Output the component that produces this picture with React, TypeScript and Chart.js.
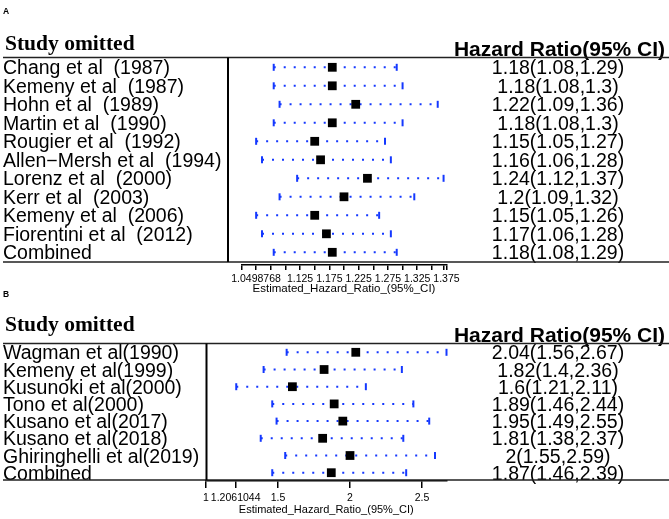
import { useEffect, useRef } from 'react';
import { Chart, registerables } from 'chart.js';

Chart.register(...registerables);

// ---------- Panel A data ----------
const studiesA = [
  'Chang et al  (1987)',
  'Kemeny et al  (1987)',
  'Hohn et al  (1989)',
  'Martin et al  (1990)',
  'Rougier et al  (1992)',
  'Allen\u2212Mersh et al  (1994)',
  'Lorenz et al  (2000)',
  'Kerr et al  (2003)',
  'Kemeny et al  (2006)',
  'Fiorentini et al  (2012)',
  'Combined',
];
const hrA = [1.18, 1.18, 1.22, 1.18, 1.15, 1.16, 1.24, 1.2, 1.15, 1.17, 1.18];
const loA = [1.08, 1.08, 1.09, 1.08, 1.05, 1.06, 1.12, 1.09, 1.05, 1.06, 1.08];
const hiA = [1.29, 1.3, 1.36, 1.3, 1.27, 1.28, 1.37, 1.32, 1.26, 1.28, 1.29];
const tickValuesA = [1.025, 1.0498768, 1.075, 1.1, 1.125, 1.15, 1.175, 1.2, 1.225, 1.25, 1.275, 1.3, 1.325, 1.35, 1.37, 1.375];
const tickLabelsA = [1.0498768, 1.125, 1.175, 1.225, 1.275, 1.325, 1.375];

// ---------- Panel B data ----------
const studiesB = [
  'Wagman et al(1990)',
  'Kemeny et al(1999)',
  'Kusunoki et al(2000)',
  'Tono et al(2000)',
  'Kusano et al(2017)',
  'Kusano et al(2018)',
  'Ghiringhelli et al(2019)',
  'Combined',
];
const hrB = [2.04, 1.82, 1.6, 1.89, 1.95, 1.81, 2, 1.87];
const loB = [1.56, 1.4, 1.21, 1.46, 1.49, 1.38, 1.55, 1.46];
const hiB = [2.67, 2.36, 2.11, 2.44, 2.55, 2.37, 2.59, 2.39];
const tickValuesB = [1, 1.2061044, 1.5, 2, 2.5];
const tickLabelsB = [1, 1.2061044, 1.5, 2, 2.5];

const axisTitle = 'Estimated_Hazard_Ratio_(95%_CI)';
const BLUE = '#1438ff';
const SANS = '"Liberation Sans", Arial, sans-serif';
const SERIF = '"Liberation Serif", "Times New Roman", serif';

type PanelSpec = {
  letter: string;
  names: string[];
  hr: number[];
  lo: number[];
  hi: number[];
  ticks: number[];
  labeled: number[];
  height: number;
  xMin: number;
  xMax: number;
  yMin: number;
  yMax: number;
  padTop: number;
  padBottom: number;
  padLeft: number;
  tickLength: number;
  tickPadding: number;
  titlePadTop: number;
  titleSize: number;
  letterY: number;
  headY: number;
  hrHeadY: number;
  topLine: number;
  bottomLine: number;
  vLineX: number;
};

const W = 669;

function makeConfig(p: PanelSpec): any {
  const squares = p.hr.map((v, i) => ({ x: v, y: i }));
  const caps = [...p.lo.map((v, i) => ({ x: v, y: i })), ...p.hi.map((v, i) => ({ x: v, y: i }))];
  const segs: any[] = [];
  p.lo.forEach((l, i) => {
    segs.push({ x: l, y: i }, { x: p.hi[i], y: i }, { x: p.hi[i], y: null });
  });

  const tablePlugin = {
    id: 'tableText' + p.letter,
    afterDraw(chart: any) {
      const ctx = chart.ctx as CanvasRenderingContext2D;
      const ys = chart.scales.y;
      ctx.save();
      ctx.fillStyle = '#000';
      ctx.textBaseline = 'alphabetic';
      ctx.textAlign = 'left';
      ctx.font = `bold 8.5px ${SANS}`;
      ctx.fillText(p.letter, 3, p.letterY);
      ctx.font = `bold 21.5px ${SERIF}`;
      ctx.fillText('Study omitted', 5, p.headY);
      ctx.font = `bold 21px ${SANS}`;
      ctx.textAlign = 'center';
      ctx.fillText('Hazard Ratio(95% CI)', 559.5, p.hrHeadY);
      ctx.font = `19.5px ${SANS}`;
      p.names.forEach((n, i) => {
        const y = ys.getPixelForValue(i);
        ctx.textAlign = 'left';
        ctx.fillText(n, 3, y + 7);
        ctx.textAlign = 'center';
        ctx.fillText(`${p.hr[i]}(${p.lo[i]},${p.hi[i]})`, 558, y + 7);
      });
      ctx.strokeStyle = '#222';
      ctx.lineWidth = 1.5;
      ctx.beginPath();
      ctx.moveTo(3, p.topLine);
      ctx.lineTo(W, p.topLine);
      ctx.moveTo(3, p.bottomLine);
      ctx.lineTo(W, p.bottomLine);
      ctx.stroke();
      ctx.strokeStyle = '#000';
      ctx.lineWidth = 2;
      ctx.beginPath();
      ctx.moveTo(p.vLineX, p.topLine);
      ctx.lineTo(p.vLineX, p.bottomLine);
      ctx.stroke();
      ctx.restore();
    },
  };

  return {
    type: 'scatter',
    data: {
      datasets: [
        {
          type: 'scatter',
          data: squares,
          pointStyle: 'rect',
          pointRadius: 6.2,
          pointBackgroundColor: '#000',
          pointBorderWidth: 0,
          clip: false,
        },
        {
          type: 'scatter',
          data: caps,
          pointStyle: 'line',
          pointRotation: 90,
          pointRadius: 3.5,
          pointBorderColor: BLUE,
          pointBorderWidth: 2,
          clip: false,
        },
        {
          type: 'line',
          data: segs,
          borderColor: BLUE,
          borderWidth: 2,
          borderDash: [2, 8],
          borderCapStyle: 'butt',
          pointRadius: 0,
          spanGaps: false,
          fill: false,
          tension: 0,
          clip: false,
        },
      ],
    },
    options: {
      responsive: false,
      animation: false,
      events: [],
      layout: {
        padding: { top: p.padTop, bottom: p.padBottom, left: p.padLeft, right: W - 446.5 },
      },
      plugins: { legend: { display: false }, tooltip: { enabled: false } },
      scales: {
        x: {
          type: 'linear',
          min: p.xMin,
          max: p.xMax,
          afterBuildTicks: (scale: any) => {
            scale.ticks = p.ticks.map((v) => ({ value: v }));
          },
          ticks: {
            autoSkip: false,
            maxRotation: 0,
            padding: p.tickPadding,
            color: '#000',
            font: { family: SANS, size: 10.5, lineHeight: 1 },
            callback: (v: number) => (p.labeled.includes(v) ? String(v) : ''),
          },
          grid: {
            display: true,
            drawOnChartArea: false,
            drawTicks: true,
            tickLength: p.tickLength,
            color: '#000',
            lineWidth: 1.5,
          },
          border: { display: true, color: '#000', width: 1.5 },
          title: {
            display: true,
            text: axisTitle,
            color: '#000',
            font: { family: SANS, size: p.titleSize, lineHeight: 1 },
            padding: { top: p.titlePadTop, bottom: 0 },
          },
        },
        y: {
          type: 'linear',
          reverse: true,
          min: p.yMin,
          max: p.yMax,
          display: false,
        },
      },
    },
    plugins: [tablePlugin],
  };
}

const panelA: PanelSpec = {
  letter: 'A',
  names: studiesA,
  hr: hrA,
  lo: loA,
  hi: hiA,
  ticks: tickValuesA,
  labeled: tickLabelsA,
  height: 300,
  xMin: 1.025,
  xMax: 1.375,
  yMin: -0.53,
  yMax: 10.659,
  padTop: 57.5,
  padBottom: 5.25,
  padLeft: 241.5,
  tickLength: 5.5,
  tickPadding: 4.25,
  titlePadTop: -5.75,
  titleSize: 11.5,
  letterY: 14,
  headY: 50,
  hrHeadY: 56,
  topLine: 57.5,
  bottomLine: 262,
  vLineX: 228,
};

const panelB: PanelSpec = {
  letter: 'B',
  names: studiesB,
  hr: hrB,
  lo: loB,
  hi: hiB,
  ticks: tickValuesB,
  labeled: tickLabelsB,
  height: 234,
  xMin: 1,
  xMax: 2.67,
  yMin: -0.512,
  yMax: 7.482,
  padTop: 58.5,
  padBottom: 4,
  padLeft: 206,
  tickLength: 7,
  tickPadding: 5.25,
  titlePadTop: -5,
  titleSize: 11,
  letterY: 12,
  headY: 45.5,
  hrHeadY: 57.3,
  topLine: 58.5,
  bottomLine: 195,
  vLineX: 206.5,
};

function PanelChart({ spec, top }: { spec: PanelSpec; top: number }) {
  const ref = useRef<HTMLCanvasElement>(null);
  useEffect(() => {
    const chart = new Chart(ref.current as HTMLCanvasElement, makeConfig(spec));
    return () => chart.destroy();
  }, [spec]);
  return (
    <canvas
      ref={ref}
      width={W}
      height={spec.height}
      style={{ position: 'absolute', left: 0, top, width: W, height: spec.height }}
    />
  );
}

export default function App() {
  return (
    <div style={{ position: 'fixed', left: 0, top: 0, width: W, height: 519, background: '#fff', overflow: 'hidden' }}>
      <PanelChart spec={panelA} top={0} />
      <PanelChart spec={panelB} top={285} />
    </div>
  );
}
